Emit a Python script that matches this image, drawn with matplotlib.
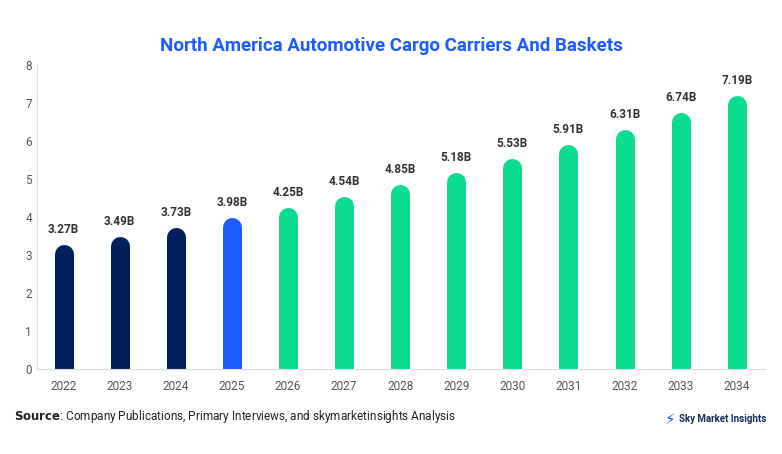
import matplotlib
matplotlib.use("Agg")
import matplotlib.pyplot as plt

years = ["2022","2023","2024","2025","2026","2027","2028","2029","2030","2031","2032","2033","2034"]
values = [3.27,3.49,3.73,3.98,4.25,4.54,4.85,5.18,5.53,5.91,6.31,6.74,7.19]
colors = ["#001f5b"]*3 + ["#1f5cff"] + ["#0cdc8f"]*9

plt.rcParams['font.family'] = ['Roboto', 'DejaVu Sans']
fig = plt.figure(figsize=(7.82,4.54), dpi=100)
ax = fig.add_axes([0.047,0.187,0.931,0.67])
ax.set_xlim(-0.48,12.5)
ax.set_ylim(0,8)
bar_px = 19
px_per_unit = 0.67*454/8
r = (bar_px/2)/px_per_unit
for i,(v,c) in enumerate(zip(values,colors)):
    ax.plot([i,i],[-1,v-r], color=c, lw=bar_px*0.72, solid_capstyle='round')
    ax.text(i, v+0.22, f"{v:.2f}B", ha='center', va='bottom', fontsize=8.5, fontweight='bold', color='#333333')
ax.set_xticks(range(len(years)))
ax.set_xticklabels(years)
ax.set_yticks(range(0,9))
ax.tick_params(length=0, labelsize=8.5, colors='#555555')
ax.tick_params(axis='x', pad=8)
for s in ['top','right']:
    ax.spines[s].set_visible(False)
for s in ['left','bottom']:
    ax.spines[s].set_color('#dddddd')
fig.text(0.5,0.888,"North America Automotive Cargo Carriers And Baskets", ha='center', fontsize=13.5, fontweight='bold', color='#1f5cff')
fig.text(0.018,0.075,r"$\bf{Source}$: Company Publications, Primary Interviews, and skymarketinsights Analysis", fontsize=8.5, color='#222222')
fig.text(0.868,0.07,"Sky Market Insights", fontsize=7, color='#1a2a5a', fontweight='bold')
fig.text(0.85,0.066,"⚡", fontsize=11, color='#1f5cff')
fig.savefig("out.png", dpi=100)
